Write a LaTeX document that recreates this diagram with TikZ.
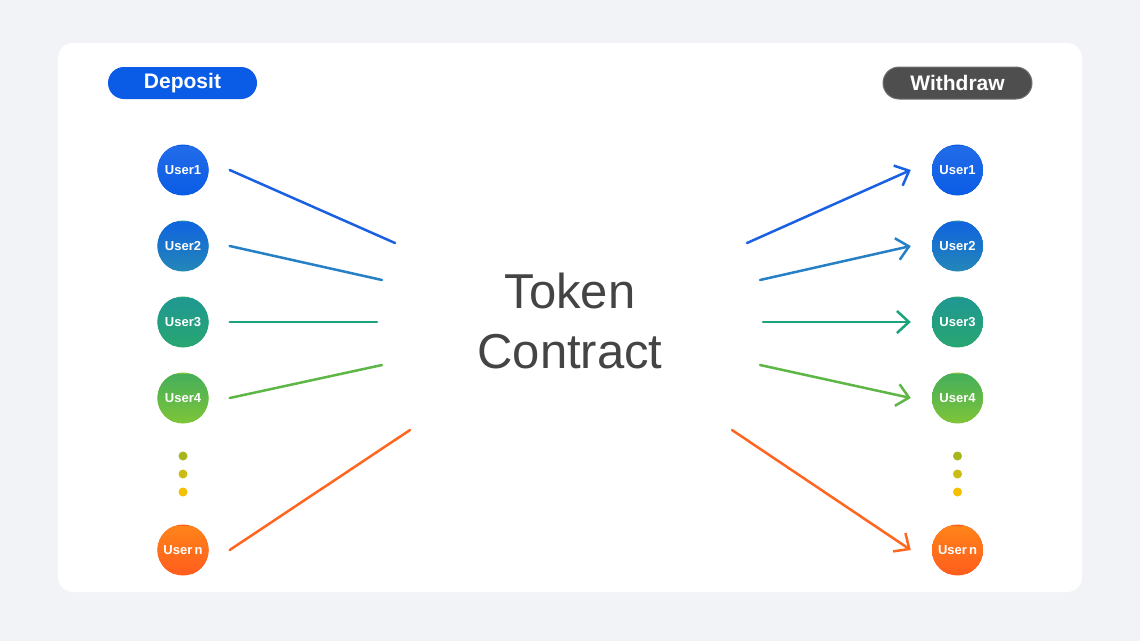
\documentclass[tikz,border=0pt]{standalone}
\usepackage{fontspec}
\setmainfont{Liberation Sans}
\usetikzlibrary{arrows.meta}
\definecolor{fond}{HTML}{F1F3F7}
\definecolor{bleu}{HTML}{0A5CE6}
\definecolor{gris}{HTML}{4E4E4E}
\definecolor{texte}{HTML}{444444}
\definecolor{ca}{HTML}{1A60E2}
\definecolor{cb}{HTML}{2680C6}
\definecolor{cc}{HTML}{1CA27C}
\definecolor{cd}{HTML}{5EB646}
\definecolor{ce}{HTML}{FF6620}
\definecolor{pa}{HTML}{A8B61E}
\definecolor{pb}{HTML}{CABC14}
\definecolor{pc}{HTML}{F5C000}

\begin{document}
\begin{tikzpicture}[x=1pt,y=-1pt]
        \tikzset{user/.style 2 args={circle,minimum size=51pt,inner sep=0pt,text=white,
                        font=\fontsize{13}{13}\selectfont\bfseries,fill=#2,
                        path picture={\fill[top color=#1,bottom color=#2]
                                ([shift={(-2pt,2pt)}]path picture bounding box.south west)
                                rectangle ([shift={(2pt,-2pt)}]path picture bounding box.north east);}},
                pill/.style={rounded corners=16pt,minimum width=149pt,minimum height=32pt,
                        inner sep=0pt,text=white,font=\fontsize{21}{21}\selectfont\bfseries},
                ligne/.style={line width=2.5pt,line cap=round},
                fleche/.style={ligne,-{Straight Barb[length=12pt,width=22pt]}}}
        % fond
        \fill[fond] (0,0) rectangle (1140,641);
        \fill[white,rounded corners=15pt] (58,43) rectangle (1082,592);
        % titres
        \node[pill,fill=bleu] (DEP) at (182.5,83) {Deposit};
        \node[pill,fill=gris,draw=gris!80!white,line width=1pt] (WIT) at (957.5,83) {Withdraw};
        % contrat
        \node[anchor=base,text=texte,font=\fontsize{49}{49}\selectfont] (TOK) at (570,308) {Token};
        \node[anchor=base,text=texte,font=\fontsize{49}{49}\selectfont] (CON) at (570,368) {Contract};
        % utilisateurs gauche
        \node[user={bleu!90!white}{bleu}] (U1) at (183,170) {User1};
        \node[user={bleu!80!cb}{cb!80!cc}] (U2) at (183,246) {User2};
        \node[user={cb!30!cc}{cc!80!cd}] (U3) at (183,322) {User3};
        \node[user={cc!40!cd}{cd!80!yellow}] (U4) at (183,398) {User4};
        \node[user={ce!80!yellow}{ce!90!red}] (UN) at (183,550) {User\,n};
        % utilisateurs droite
        \node[user={bleu!90!white}{bleu}] (V1) at (957.5,170) {User1};
        \node[user={bleu!80!cb}{cb!80!cc}] (V2) at (957.5,246) {User2};
        \node[user={cb!30!cc}{cc!80!cd}] (V3) at (957.5,322) {User3};
        \node[user={cc!40!cd}{cd!80!yellow}] (V4) at (957.5,398) {User4};
        \node[user={ce!80!yellow}{ce!90!red}] (VN) at (957.5,550) {User\,n};
        % points
        \fill[pa] (183,456) circle (4.5);
        \fill[pb] (183,474) circle (4.5);
        \fill[pc] (183,492) circle (4.5);
        \fill[pa] (957.5,456) circle (4.5);
        \fill[pb] (957.5,474) circle (4.5);
        \fill[pc] (957.5,492) circle (4.5);
        % extremites vers le contrat
        \coordinate (G1) at (395,243);
        \coordinate (G2) at (382,280);
        \coordinate (G3) at (377,322);
        \coordinate (G4) at (382,365);
        \coordinate (GN) at (410,430);
        \coordinate (D1) at (747,243);
        \coordinate (D2) at (760,280);
        \coordinate (D3) at (763,322);
        \coordinate (D4) at (760,365);
        \coordinate (DN) at (732,430);
        % depots
        \draw[ligne,ca] ([xshift=21pt]U1.east) -- (G1);
        \draw[ligne,cb] ([xshift=21pt]U2.east) -- (G2);
        \draw[ligne,cc] ([xshift=21pt]U3.east) -- (G3);
        \draw[ligne,cd] ([xshift=21pt]U4.east) -- (G4);
        \draw[ligne,ce] ([xshift=21pt]UN.east) -- (GN);
        % retraits
        \draw[fleche,ca] (D1) -- ([xshift=-21pt]V1.west);
        \draw[fleche,cb] (D2) -- ([xshift=-21pt]V2.west);
        \draw[fleche,cc] (D3) -- ([xshift=-21pt]V3.west);
        \draw[fleche,cd] (D4) -- ([xshift=-21pt]V4.west);
        \draw[fleche,ce] (DN) -- ([xshift=-21pt]VN.west);
\end{tikzpicture}
\end{document}
